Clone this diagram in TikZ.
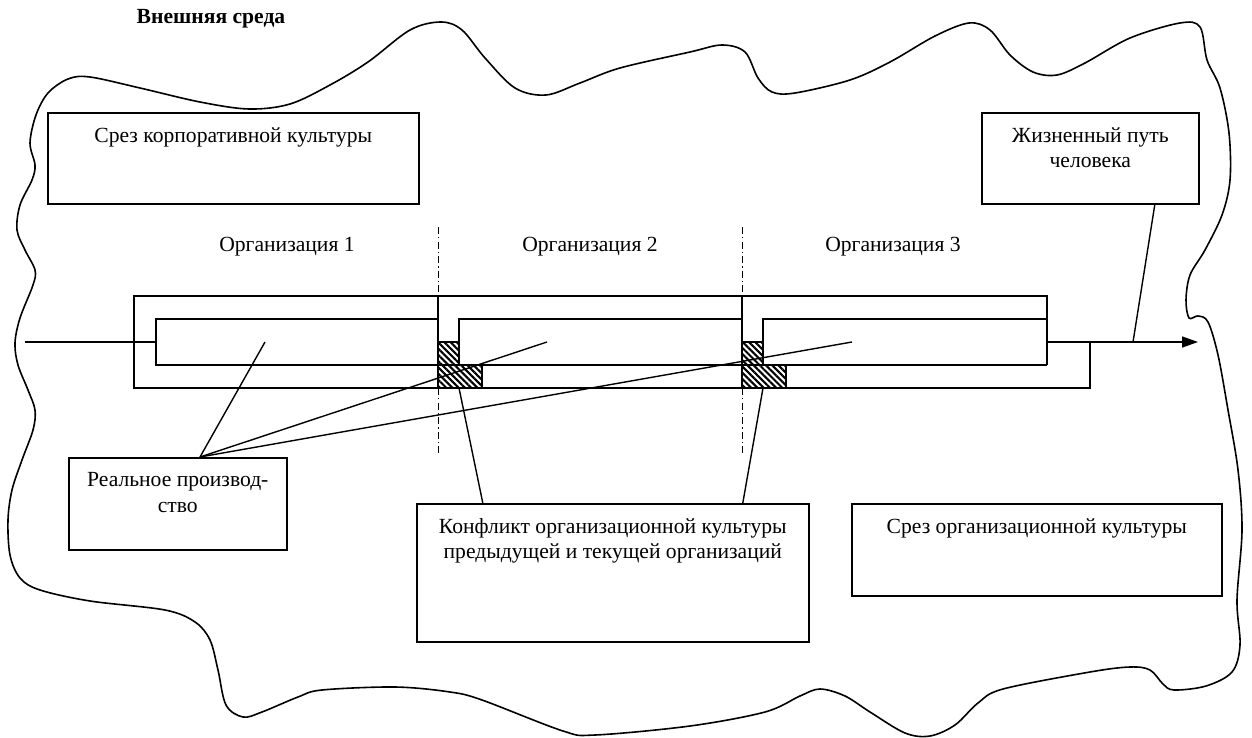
\documentclass[tikz,border=0pt]{standalone}
\usepackage{fontspec}
\setmainfont{Liberation Serif}
\usetikzlibrary{arrows.meta, patterns.meta, calc}
\newcommand\diagfont{\fontsize{10.8pt}{12.8pt}\selectfont}

\begin{document}
\begin{tikzpicture}[x=0.5pt, y=-0.5pt,
                every node/.style={font=\diagfont},
                box/.style={draw, line width=0.8pt, anchor=north west, inner sep=0pt},
                boxtext/.style={anchor=north, align=center, inner sep=0pt, yshift=-7.5pt},
                band/.style={line width=0.8pt},
                link/.style={line width=0.7pt},
                border/.style={line width=0.8pt},
                divider/.style={line width=0.5pt, dash pattern=on 3.5pt off 1.6pt on 0.6pt off 1.6pt},
                conflict/.style={draw, line width=0.8pt,
                    pattern={Lines[angle=-45, distance=2.2pt, line width=1.05pt]}}]
                \useasboundingbox (0,0) rectangle (1252,738);

                % external environment
                \draw[border] plot[smooth cycle, tension=0.55] coordinates {
                    (30,143) (36,115) (48,93) (68,79) (90,77) (140,88) (200,102) (249,109)
                    (290,104) (330,85) (368,62) (410,30) (441,22) (462,30) (485,58) (515,88)
                    (546,95) (580,83) (620,68) (690,52) (722,45) (745,52) (758,78) (772,92)
                    (795,93) (850,80) (890,62) (935,36) (969,23) (990,30) (1010,55) (1033,72)
                    (1057,75) (1085,63) (1130,38) (1180,23) (1200,27) (1207,60) (1220,88)
                    (1229,133) (1230,180) (1222,215) (1205,250) (1190,275) (1186,300)
                    (1189,318) (1198,316) (1208,322) (1218,355) (1228,410) (1238,470)
                    (1242,530) (1237,600) (1240,645) (1232,672) (1206,686) (1174,690)
                    (1163,684) (1150,670) (1130,667) (1090,672) (1003,689) (978,703)
                    (955,725) (930,736) (905,733) (870,712) (845,696) (820,689) (800,696)
                    (765,712) (690,726) (595,735) (563,731) (482,700) (450,692) (395,687)
                    (322,690) (298,697) (262,712) (243,717) (226,705) (218,670) (210,640)
                    (195,622) (165,610) (90,601) (40,590) (20,578) (10,555) (8,520) (12,490)
                    (22,460) (33,430) (35,410) (28,390) (18,365) (15,343) (20,318) (33,285)
                    (35,270) (25,250) (17,230) (20,205) (32,180) (35,165)};
                \node[font=\diagfont\bfseries] (env) at (211,19) {Внешняя среда};

                % boxes
                \node[box, minimum width=185.5pt, minimum height=45.5pt] (srezk) at (47,112) {};
                \node[boxtext] (srezk-t) at (srezk.north) {Срез корпоративной культуры};
                \node[box, minimum width=108.5pt, minimum height=45.5pt] (life) at (981,112) {};
                \node[boxtext] (life-t) at (life.north) {Жизненный путь\\человека};
                \node[box, minimum width=109pt, minimum height=46pt] (prod) at (68,457) {};
                \node[boxtext] (prod-t) at (prod.north) {Реальное производ-\\ство};
                \node[box, minimum width=196pt, minimum height=69pt] (konf) at (416,503) {};
                \node[boxtext] (konf-t) at (konf.north) {Конфликт организационной культуры\\предыдущей и текущей организаций};
                \node[box, minimum width=185pt, minimum height=46pt] (srezo) at (851,503) {};
                \node[boxtext] (srezo-t) at (srezo.north) {Срез организационной культуры};

                % organisations and borders between them
                \foreach \x/\n in {287/1, 590/2, 893/3}
                    \node (org\n) at (\x,247) {Организация \n};
                \foreach \x [count=\i] in {438, 742}{
                    \draw[divider] (\x,227) -- (\x,296);
                    \draw[divider] (\x,388) -- (\x,453);
                    \draw[band] (\x,296) -- (\x,342);
                    \draw[conflict] (\x,342) -- ++(21,0) -- ++(0,23) -- ++(23,0) -- ++(0,23) -- ++(-44,0) -- cycle;
                    \coordinate (h\i) at (\x+21,388);
                }

                % career band
                \draw[band] (1047,365) -- (1047,296) -- (134,296) -- (134,388) -- (1090,388) -- (1090,342);
                \draw[band] (438,319) -- (156,319) -- (156,365) -- (1047,365);
                \draw[band] (459,342) -- (459,319) -- (742,319);
                \draw[band] (763,342) -- (763,319) -- (1047,319);

                % life line
                \coordinate (start) at (25,342);
                \coordinate (stop) at (1198,342);
                \coordinate (p1) at (265,342);
                \coordinate (p2) at (547,342);
                \coordinate (p3) at (852,342);
                \coordinate (q) at (1133,342);
                \draw[band] (start) -- (156,342);
                \draw[band, -{Triangle[length=8pt, width=5.5pt]}] (1047,342) -- (stop);

                % links
                \foreach \p in {p1, p2, p3}
                    \draw[link] ($(prod.north west)+(132,0)$) -- (\p);
                \draw[link] ($(konf.north)+(-130,0)$) -- (h1);
                \draw[link] ($(konf.north)+(130,0)$) -- (h2);
                \draw[link] ($(life.south)+(64.5,0)$) -- (q);
\end{tikzpicture}
\end{document}
